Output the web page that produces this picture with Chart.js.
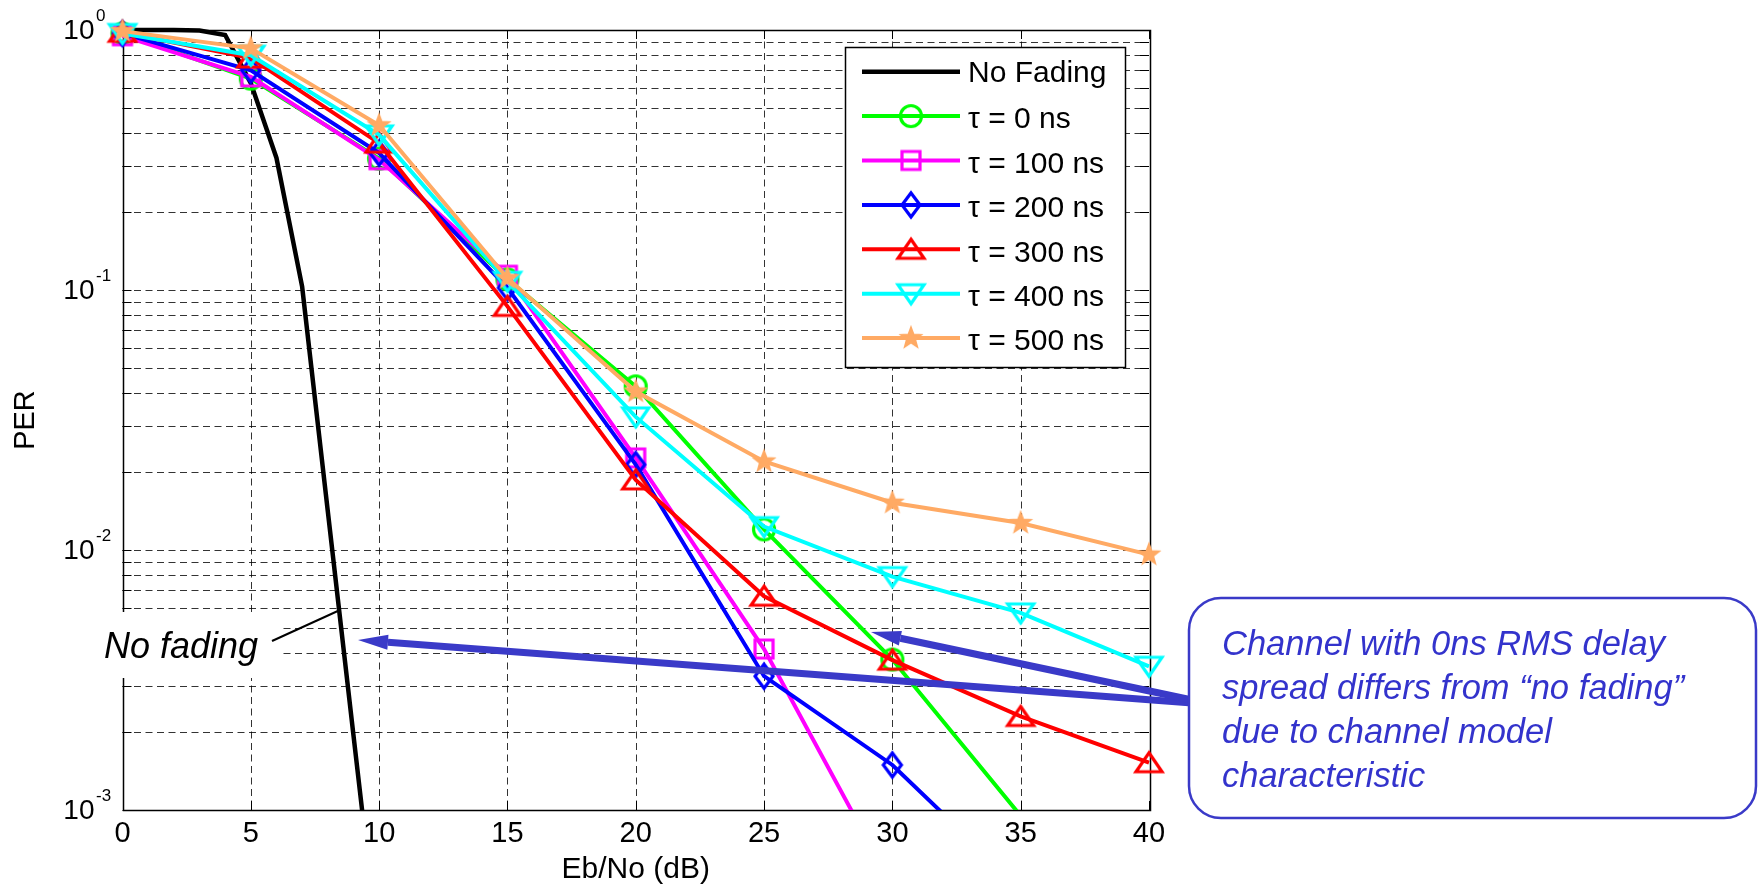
<!DOCTYPE html>
<html>
<head>
<meta charset="utf-8">
<script src="https://cdn.jsdelivr.net/npm/chart.js@4.4.0/dist/chart.umd.min.js"></script>
<style>
  html, body { margin: 0; padding: 0; background: #fff; }
  canvas { display: block; }
</style>
</head>
<body>
<canvas id="perChart" width="1759" height="888"></canvas>
<script>
// PER vs Eb/No
const ebno = [0, 5, 10, 15, 20, 25, 30, 35, 40];
const noFadingEbno = [0, 1, 2, 3, 4, 5, 6, 7, 8, 9, 10];

const perNoFading = [1.0, 1.0, 1.0, 0.995, 0.957, 0.625, 0.322, 0.103, 0.0141, 0.00194, 0.00027];
const per0ns   = [0.97, 0.65, 0.32, 0.110, 0.0426, 0.0120, 0.00379, 0.00095];
const per100ns = [0.95, 0.66, 0.317, 0.114, 0.0226, 0.00416, 0.00051];
const per200ns = [0.97, 0.70, 0.336, 0.102, 0.0213, 0.00327, 0.00149, 0.0005];
const per300ns = [0.98, 0.78, 0.367, 0.0865, 0.0186, 0.00664, 0.00377, 0.00229, 0.00152];
const per400ns = [0.97, 0.80, 0.395, 0.108, 0.0325, 0.0123, 0.0079, 0.00573, 0.00357];
const per500ns = [0.99, 0.85, 0.43, 0.111, 0.0407, 0.0219, 0.0152, 0.0127, 0.0096];

const seriesLabels = ['No Fading', 'τ = 0 ns', 'τ = 100 ns', 'τ = 200 ns', 'τ = 300 ns', 'τ = 400 ns', 'τ = 500 ns'];

const xTicks = [0, 5, 10, 15, 20, 25, 30, 35, 40];
const yGridTicks = [
  0.001, 0.002, 0.003, 0.004, 0.005, 0.006, 0.007, 0.008, 0.009,
  0.01, 0.02, 0.03, 0.04, 0.05, 0.06, 0.07, 0.08, 0.09,
  0.1, 0.2, 0.3, 0.4, 0.5, 0.6, 0.7, 0.8, 0.9, 1
];
const yMajorTicks = [0.001, 0.01, 0.1, 1];
const yMajorExponents = ['-3', '-2', '-1', '0'];

const noFadingNote = 'No fading';
const boxNoteLines = ['Channel with 0ns RMS delay', 'spread differs from \u201cno fading\u201d', 'due to channel model', 'characteristic'];

const Y_MIN = 0.001;
const NOTE_BLUE = 'rgb(58,58,200)';
const FONT = '"Liberation Sans", Arial, Helvetica, sans-serif';

Chart.defaults.font.family = FONT;
Chart.defaults.color = '#000';

const seriesStyles = [
  { color: '#000000', width: 4.5, marker: null },
  { color: '#00ff00', width: 4, marker: 'circle' },
  { color: '#ff00ff', width: 4, marker: 'square' },
  { color: '#0000ff', width: 4, marker: 'diamond' },
  { color: '#ff0000', width: 4, marker: 'triangle' },
  { color: '#00ffff', width: 4, marker: 'triangleDown' },
  { color: 'rgb(255,170,100)', width: 4, marker: 'star' }
];

// matlab-like hollow markers drawn on small canvases
function makeMarker(kind, color) {
  const c = document.createElement('canvas');
  c.width = 36; c.height = 36;
  const g = c.getContext('2d');
  g.strokeStyle = color; g.fillStyle = color; g.lineWidth = 3.2;
  g.translate(18, 18);
  g.beginPath();
  if (kind === 'circle') {
    g.arc(0, 0, 10.5, 0, Math.PI * 2);
  } else if (kind === 'square') {
    g.rect(-9, -9, 18, 18);
  } else if (kind === 'diamond') {
    g.moveTo(0, -12); g.lineTo(9, 0); g.lineTo(0, 12); g.lineTo(-9, 0); g.closePath();
  } else if (kind === 'triangle') {
    g.moveTo(0, -10); g.lineTo(13, 9); g.lineTo(-13, 9); g.closePath();
  } else if (kind === 'triangleDown') {
    g.moveTo(0, 10); g.lineTo(13, -9); g.lineTo(-13, -9); g.closePath();
  } else if (kind === 'star') {
    g.lineWidth = 1.5;
    for (let k = 0; k < 10; k++) {
      const r = k % 2 === 0 ? 11 : 4.6;
      const ang = -Math.PI / 2 + k * Math.PI / 5;
      if (k === 0) g.moveTo(r * Math.cos(ang), r * Math.sin(ang));
      else g.lineTo(r * Math.cos(ang), r * Math.sin(ang));
    }
    g.closePath();
    g.fill();
  }
  g.stroke();
  return c;
}

const markers = seriesStyles.map(s => s.marker ? makeMarker(s.marker, s.color) : null);

const seriesX = [noFadingEbno, ebno, ebno, ebno, ebno, ebno, ebno];
const seriesY = [perNoFading, per0ns, per100ns, per200ns, per300ns, per400ns, per500ns];

const datasets = seriesY.map((ys, i) => ({
  label: seriesLabels[i],
  data: ys.map((v, j) => ({ x: seriesX[i][j], y: v })),
  borderColor: seriesStyles[i].color,
  backgroundColor: seriesStyles[i].color,
  borderWidth: seriesStyles[i].width,
  pointStyle: markers[i] || false,
  pointRadius: markers[i] ? (ctx => (ctx.raw && ctx.raw.y < Y_MIN ? 0 : 12)) : 0,
  pointHoverRadius: 0,
  tension: 0,
  fill: false,
  clip: { left: 20, top: 20, right: 20, bottom: 0 },
  order: seriesY.length - i
}));

const snap = v => Math.round(v) + 0.5;

const matlabLook = {
  id: 'matlabLook',
  beforeDatasetsDraw(chart) {
    const { ctx, chartArea: a, scales: { x, y } } = chart;
    ctx.save();
    ctx.lineWidth = 1;
    ctx.strokeStyle = 'rgba(0,0,0,0.8)';
    ctx.setLineDash([7, 4.5]);
    xTicks.slice(1, -1).forEach(v => {
      const px = snap(x.getPixelForValue(v));
      ctx.beginPath(); ctx.moveTo(px, a.top); ctx.lineTo(px, a.bottom); ctx.stroke();
    });
    yGridTicks.slice(1, -1).forEach(v => {
      const py = snap(y.getPixelForValue(v));
      ctx.beginPath(); ctx.moveTo(a.left, py); ctx.lineTo(a.right, py); ctx.stroke();
    });
    // inward ticks + box
    ctx.setLineDash([]);
    ctx.strokeStyle = '#000';
    const tl = 9;
    ctx.beginPath();
    xTicks.forEach(v => {
      const px = snap(x.getPixelForValue(v));
      ctx.moveTo(px, a.bottom); ctx.lineTo(px, a.bottom - tl);
      ctx.moveTo(px, a.top); ctx.lineTo(px, a.top + tl);
    });
    yGridTicks.forEach(v => {
      const py = snap(y.getPixelForValue(v));
      ctx.moveTo(a.left, py); ctx.lineTo(a.left + tl, py);
      ctx.moveTo(a.right, py); ctx.lineTo(a.right - tl, py);
    });
    ctx.stroke();
    ctx.lineWidth = 1.5;
    ctx.strokeRect(snap(a.left), snap(a.top), Math.round(a.right - a.left), Math.round(a.bottom - a.top));
    ctx.restore();
  },
  afterDatasetsDraw(chart) {
    const { ctx } = chart;
    ctx.save();
    // "No fading" callout
    ctx.fillStyle = '#fff';
    ctx.fillRect(95, 612, 188, 66);
    ctx.fillStyle = '#000';
    ctx.font = 'italic 36px ' + FONT;
    ctx.textAlign = 'left';
    ctx.textBaseline = 'alphabetic';
    ctx.fillText(noFadingNote, 104, 658);
    ctx.strokeStyle = '#000';
    ctx.lineWidth = 2;
    ctx.beginPath(); ctx.moveTo(272, 641); ctx.lineTo(340, 610); ctx.stroke();
    ctx.restore();
  },
  afterDraw(chart) {
    const { ctx, scales: { y } } = chart;
    ctx.save();
    // y tick labels with superscripts
    ctx.fillStyle = '#000';
    yMajorTicks.forEach((v, i) => {
      const py = y.getPixelForValue(v);
      ctx.font = '28px ' + FONT;
      ctx.textAlign = 'right';
      ctx.textBaseline = 'middle';
      ctx.fillText('10', 94.5, py + 1);
      ctx.font = '17px ' + FONT;
      ctx.textAlign = 'left';
      ctx.fillText(yMajorExponents[i], 96, py - 14);
    });

    // blue arrows
    const arrow = (x1, y1, x2, y2) => {
      const ang = Math.atan2(y2 - y1, x2 - x1);
      const hl = 30, hw = 15;
      const bx = x2 - hl * Math.cos(ang), by = y2 - hl * Math.sin(ang);
      ctx.strokeStyle = NOTE_BLUE; ctx.fillStyle = NOTE_BLUE;
      ctx.lineWidth = 7; ctx.lineCap = 'butt';
      ctx.beginPath(); ctx.moveTo(x1, y1); ctx.lineTo(bx, by); ctx.stroke();
      const nx = -Math.sin(ang) * hw / 2, ny = Math.cos(ang) * hw / 2;
      ctx.beginPath();
      ctx.moveTo(x2, y2); ctx.lineTo(bx + nx, by + ny); ctx.lineTo(bx - nx, by - ny);
      ctx.closePath(); ctx.fill();
    };
    arrow(1192, 703, 358, 640);
    arrow(1192, 700, 871, 632);

    // rounded note box
    const bx = 1189, by = 598, bw = 567, bh = 220, r = 32;
    ctx.beginPath();
    ctx.moveTo(bx + r, by);
    ctx.arcTo(bx + bw, by, bx + bw, by + bh, r);
    ctx.arcTo(bx + bw, by + bh, bx, by + bh, r);
    ctx.arcTo(bx, by + bh, bx, by, r);
    ctx.arcTo(bx, by, bx + bw, by, r);
    ctx.closePath();
    ctx.fillStyle = '#fff'; ctx.fill();
    ctx.strokeStyle = NOTE_BLUE; ctx.lineWidth = 2.5; ctx.stroke();
    ctx.fillStyle = 'rgb(51,51,204)';
    ctx.font = 'italic 34.5px ' + FONT;
    ctx.textAlign = 'left'; ctx.textBaseline = 'alphabetic';
    boxNoteLines.forEach((t, i) => ctx.fillText(t, 1222, 655 + i * 44));

    // legend
    const lx = 845, ly = 47, lw = 280, lh = 320;
    ctx.fillStyle = '#fff';
    ctx.fillRect(lx, ly, lw, lh);
    ctx.strokeStyle = '#000'; ctx.lineWidth = 1.5;
    ctx.strokeRect(lx + 0.5, ly + 0.5, lw, lh);
    chart.data.datasets.forEach((ds, i) => {
      const ry = 71.7 + i * 44.4;
      ctx.strokeStyle = ds.borderColor; ctx.lineWidth = ds.borderWidth;
      ctx.beginPath(); ctx.moveTo(862, ry); ctx.lineTo(960, ry); ctx.stroke();
      if (markers[i]) ctx.drawImage(markers[i], 911 - 18, ry - 18);
      ctx.fillStyle = '#000';
      ctx.font = '30px ' + FONT;
      ctx.textAlign = 'left'; ctx.textBaseline = 'middle';
      ctx.fillText(ds.label, 968, ry + (i === 0 ? 2 : 4));
    });
    ctx.restore();
  }
};

new Chart(document.getElementById('perChart'), {
  type: 'line',
  data: { datasets },
  options: {
    responsive: false,
    animation: false,
    devicePixelRatio: 1,
    layout: { padding: { left: 0, right: 610, top: 30, bottom: 0 } },
    plugins: { legend: { display: false }, tooltip: { enabled: false } },
    scales: {
      x: {
        type: 'linear',
        min: 0,
        max: 40,
        afterBuildTicks: s => { s.ticks = xTicks.map(v => ({ value: v })); },
        afterFit: s => { s.height = 78; },
        grid: { display: false, drawTicks: false },
        border: { display: false },
        ticks: { font: { size: 29 }, color: '#000', padding: 7, maxRotation: 0, autoSkip: false },
        title: { display: true, text: 'Eb/No (dB)', font: { size: 30 }, color: '#000', padding: { top: 0, bottom: 0 } }
      },
      y: {
        type: 'logarithmic',
        min: 0.001,
        max: 1,
        afterBuildTicks: s => { s.ticks = yGridTicks.map(v => ({ value: v })); },
        afterFit: s => { s.width = 122.5; },
        grid: { display: false, drawTicks: false },
        border: { display: false },
        ticks: { display: false },
        title: { display: true, text: 'PER', font: { size: 29 }, color: '#000', padding: { top: 9, bottom: 0 } }
      }
    }
  },
  plugins: [matlabLook]
});
</script>
</body>
</html>
